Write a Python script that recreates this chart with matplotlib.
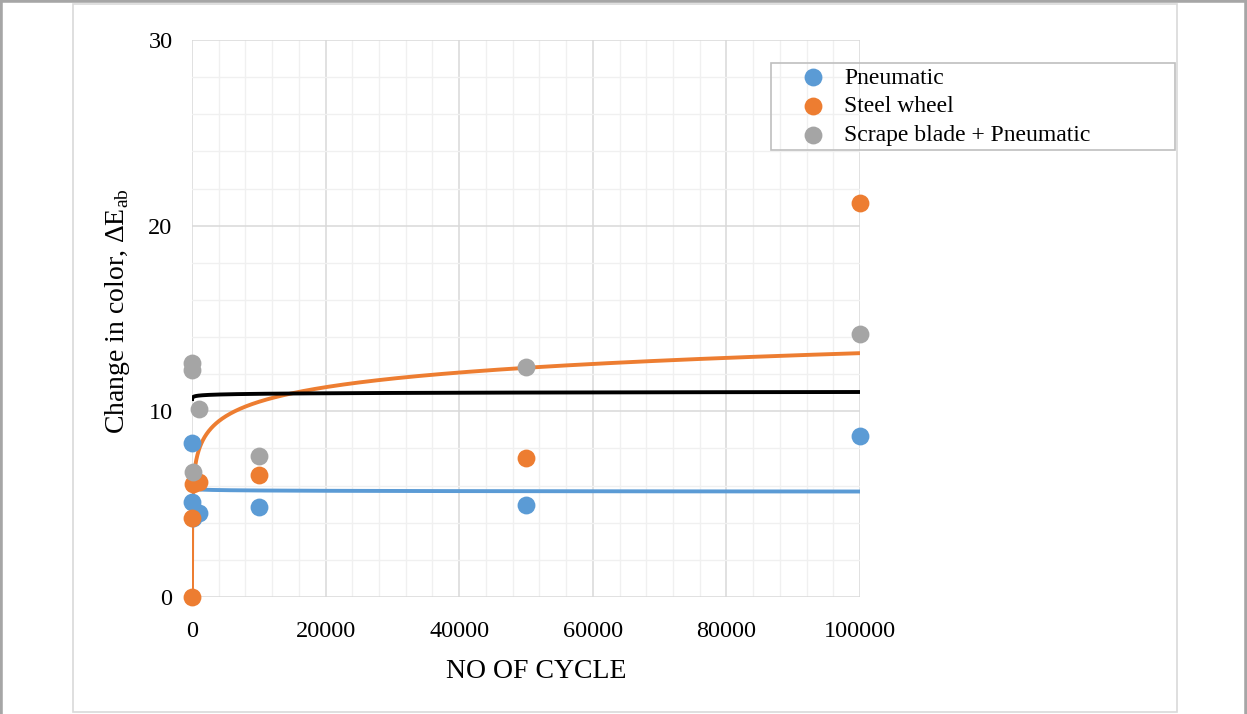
import numpy as np
import matplotlib
matplotlib.use("Agg")
import matplotlib.pyplot as plt
from matplotlib.lines import Line2D
from matplotlib.patches import Rectangle

plt.rcParams['font.family'] = ['Liberation Serif', 'DejaVu Serif']
plt.rcParams['mathtext.fontset'] = 'custom'
plt.rcParams['mathtext.rm'] = 'Liberation Serif'

# cycles tested (same for all three series)
cycles = [1, 10, 100, 1000, 10000, 50000, 100000]

# colour change, delta E_ab
pneumatic = [8.3, 5.1, 4.25, 4.5, 4.85, 4.95, 8.67]
steel_wheel = [0.0, 4.25, 6.1, 6.2, 6.57, 7.5, 21.2]
scrape_pneumatic = [12.6, 12.2, 6.75, 10.1, 7.6, 12.4, 14.15]

series_names = ["Pneumatic", "Steel wheel", "Scrape blade + Pneumatic"]
colors = ["#5B9BD5", "#ED7D31", "#A5A5A5"]
trend_colors = ["#5B9BD5", "#ED7D31", "#000000"]

W, H = 1247, 714
fig = plt.figure(figsize=(W / 100, H / 100), dpi=100)
ax = fig.add_axes([192 / W, 1 - 597 / H, (860 - 192) / W, (597 - 40) / H])

# frame like the screenshot
fig.lines.append(Line2D([0, 0, 1, 1], [0, 1, 1, 0], transform=fig.transFigure,
                        color="#A6A6A6", lw=4))
fig.patches.append(Rectangle((73 / W, 2 / H), (1177 - 73) / W, 708 / H,
                             transform=fig.transFigure, fill=False,
                             edgecolor="#D9D9D9", lw=1.2))

x = np.array(cycles, dtype=float)
xs = np.unique(np.concatenate([np.geomspace(1, 100000, 500), np.linspace(1, 100000, 500)]))

# logarithmic trendlines (as in Excel)
for vals, tc in zip([pneumatic, steel_wheel, scrape_pneumatic], trend_colors):
    a, b = np.polyfit(np.log(x), np.array(vals), 1)
    ax.plot(xs, a * np.log(xs) + b, color=tc, lw=2.8, zorder=3, solid_capstyle='butt')

for vals, name, c in zip([pneumatic, steel_wheel, scrape_pneumatic], series_names, colors):
    ax.scatter(cycles, vals, s=165, color=c, label=name, zorder=4, linewidths=0, clip_on=False)

ax.set_xlim(0, 100000)
ax.set_ylim(0, 30)
ax.set_xticks(np.arange(0, 100001, 20000))
ax.set_xticks(np.arange(0, 100001, 4000), minor=True)
ax.set_yticks([0, 10, 20, 30])
ax.set_yticks(np.arange(0, 31, 2), minor=True)
ax.grid(which='major', color='#D9D9D9', lw=1.1)
ax.grid(which='minor', color='#F0F0F0', lw=1.0)
ax.set_axisbelow(True)
for s in ax.spines.values():
    s.set_visible(False)
ax.tick_params(which='both', length=0, labelsize=17.5)
ax.tick_params(axis='x', pad=17)
ax.tick_params(axis='y', pad=14)

fig.text(536 / W, 1 - 672 / H, "NO OF CYCLE", fontsize=20, ha='center', va='center')
fig.text(118 / W, 1 - 311 / H, r"Change in color, ΔE$_{\mathregular{ab}}$", fontsize=20,
         rotation=90, ha='center', va='center')

leg = ax.legend(loc='upper left', bbox_to_anchor=(794 / W, 1 - 67 / H),
                bbox_transform=fig.transFigure, fontsize=17, frameon=False,
                borderpad=0, labelspacing=0.31, handletextpad=0.52,
                handlelength=1.6, borderaxespad=0)
fig.patches.append(Rectangle((771 / W, 1 - 150 / H), (1175 - 771) / W, (150 - 63) / H,
                             transform=fig.transFigure, fill=False,
                             edgecolor="#BFBFBF", lw=1.2))

fig.savefig("out.png", dpi=100)
